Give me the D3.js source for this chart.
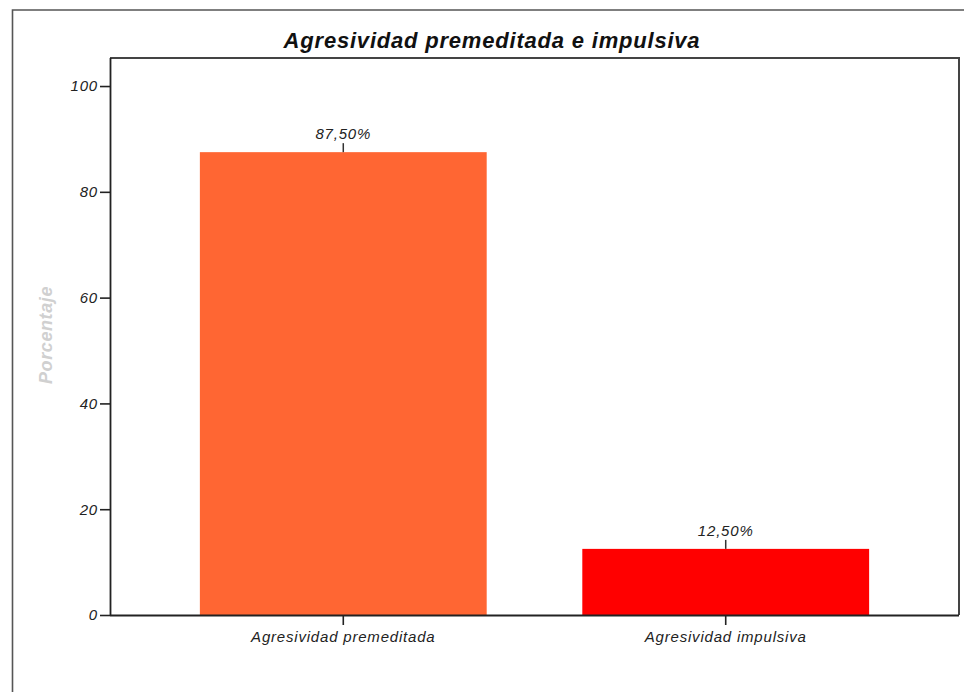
<!DOCTYPE html>
<html>
<head>
<meta charset="utf-8">
<script src="https://cdn.jsdelivr.net/npm/d3@7"></script>
<style>
  html, body { margin: 0; padding: 0; background: #fff; }
  svg { display: block; font-family: "Liberation Sans", Arial, sans-serif; }
</style>
</head>
<body>
<svg id="chart" width="965" height="692"></svg>
<script>
// Data
const categories = ["Agresividad premeditada", "Agresividad impulsiva"];
const percentages = [87.5, 12.5];
const barColors = ["#ff6633", "#ff0000"];
const yTicks = [0, 20, 40, 60, 80, 100];
const chartTitle = "Agresividad premeditada e impulsiva";
const yTitle = "Porcentaje";

const svg = d3.select("#chart");

// Plot area
const plot = { left: 110, right: 959, top: 58, bottom: 615 };

const x = d3.scaleBand()
  .domain(categories)
  .range([plot.left, plot.right])
  .paddingInner(0.25)
  .paddingOuter(0.235);

const y = d3.scaleLinear()
  .domain([0, 105.3])
  .range([plot.bottom, plot.top]);

// Outer frame (left and top edges)
svg.append("path")
  .attr("d", `M12.5,700 V10 H964`)
  .attr("fill", "none")
  .attr("stroke", "#555")
  .attr("stroke-width", 1.6);

// Title
svg.append("text")
  .attr("x", 492)
  .attr("y", 48)
  .attr("text-anchor", "middle")
  .attr("font-size", 22)
  .attr("font-weight", "bold")
  .attr("font-style", "italic")
  .attr("letter-spacing", 0.8)
  .attr("fill", "#111")
  .text(chartTitle);

// Plot box (top and right edges)
svg.append("path")
  .attr("d", `M${plot.left},${plot.top} H${plot.right} V${plot.bottom}`)
  .attr("fill", "none")
  .attr("stroke", "#444")
  .attr("stroke-width", 2);

// Bars
svg.append("g").selectAll("rect")
  .data(categories)
  .join("rect")
  .attr("x", d => x(d))
  .attr("y", (d, i) => y(percentages[i]))
  .attr("width", x.bandwidth())
  .attr("height", (d, i) => y(0) - y(percentages[i]))
  .attr("fill", (d, i) => barColors[i]);

// Value labels with leader ticks
const fmt = v => d3.format(".2f")(v).replace(".", ",") + "%";
const labels = svg.append("g");
categories.forEach((c, i) => {
  const cx = x(c) + x.bandwidth() / 2;
  const top = y(percentages[i]);
  labels.append("line")
    .attr("x1", cx).attr("x2", cx)
    .attr("y1", top).attr("y2", top - 9)
    .attr("stroke", "#333")
    .attr("stroke-width", 1.5);
  labels.append("text")
    .attr("x", cx)
    .attr("y", top - 13)
    .attr("text-anchor", "middle")
    .attr("font-size", 15)
    .attr("font-style", "italic")
    .attr("letter-spacing", 0.8)
    .attr("fill", "#222")
    .text(fmt(percentages[i]));
});

// Y axis
const yAxis = svg.append("g")
  .attr("transform", `translate(${plot.left},0)`)
  .call(d3.axisLeft(y).tickValues(yTicks).tickSize(10).tickPadding(2).tickFormat(d3.format("d")));
yAxis.select(".domain").attr("stroke", "#222").attr("stroke-width", 1.8)
  .attr("d", `M0.5,${plot.top}V${plot.bottom}`);
yAxis.selectAll(".tick line").attr("stroke", "#222").attr("stroke-width", 1.6);
yAxis.selectAll(".tick text")
  .attr("font-size", 15)
  .attr("font-style", "italic")
  .attr("letter-spacing", 0.8)
  .attr("fill", "#222")
  .attr("font-family", "Liberation Sans, Arial, sans-serif");

// X axis
const xAxis = svg.append("g")
  .attr("transform", `translate(0,${plot.bottom})`)
  .call(d3.axisBottom(x).tickSize(10).tickPadding(6));
xAxis.select(".domain").attr("stroke", "#222").attr("stroke-width", 2)
  .attr("d", `M${plot.left},0.5H${plot.right}`);
xAxis.selectAll(".tick line").attr("stroke", "#222").attr("stroke-width", 1.6);
xAxis.selectAll(".tick text")
  .attr("font-size", 15)
  .attr("font-style", "italic")
  .attr("letter-spacing", 0.8)
  .attr("fill", "#222")
  .attr("font-family", "Liberation Sans, Arial, sans-serif");

// Y axis title
svg.append("text")
  .attr("transform", "translate(52,335) rotate(-90)")
  .attr("text-anchor", "middle")
  .attr("font-size", 18)
  .attr("font-weight", "bold")
  .attr("font-style", "italic")
  .attr("letter-spacing", 0.6)
  .attr("fill", "#d0d0d0")
  .text(yTitle);
</script>
</body>
</html>
